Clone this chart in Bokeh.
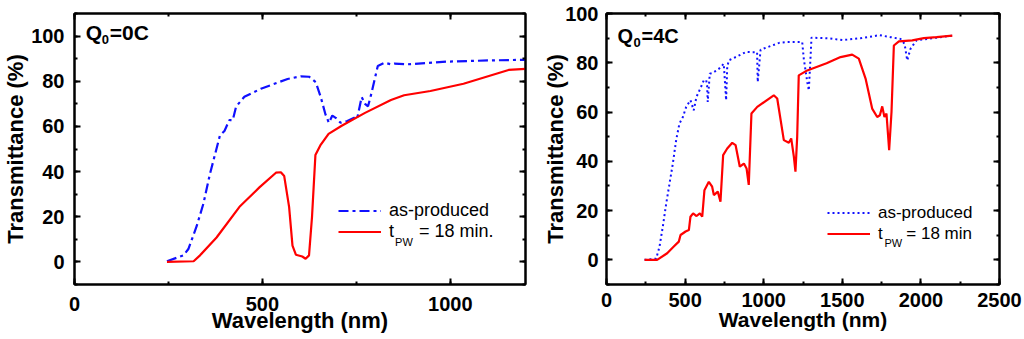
from bokeh.plotting import figure
from bokeh.layouts import row
from bokeh.models import (LinearAxis, SingleIntervalTicker, Range1d, Legend,
                          LegendItem, Label)
from bokeh.embed import file_html
from bokeh.resources import INLINE

FONT = "Liberation Sans"

# ---------------- Panel (a): Q0 = 0C ----------------
a_wl_asprod = [246, 290, 303, 325, 343, 360, 387, 399, 412, 421, 430, 452, 496, 567,
               602, 624, 642, 655, 668, 677, 686, 695, 708, 726, 744, 752, 757, 764,
               773, 781, 790, 807, 825, 842, 851, 886, 992, 1100, 1200]
a_t_asprod = [0.3, 2.9, 5.7, 15.8, 25.8, 38.7, 56, 58, 62.8, 62.8, 68.8, 73.1, 76.7, 81,
              82.2, 82, 79.6, 73.1, 65.2, 61.6, 64.8, 63.8, 61.6, 62.4, 63.8, 63.4, 67.4, 73,
              70, 68.9, 74.6, 86.8, 88.2, 87.5, 87.8, 87.5, 88.7, 89.2, 89.5]
a_wl_pw = [246, 317, 334, 378, 439, 492, 536, 549, 558, 571, 580, 589, 606, 615, 624,
           632, 641, 654, 676, 711, 773, 842, 877, 947, 1035, 1155, 1200]
a_t_pw = [0, 0.3, 2.9, 10.8, 24.4, 33, 39.5, 39.7, 38, 24.4, 7.2, 3.2, 2.4, 1.4, 2.9,
          20, 47.3, 51.6, 56.7, 60.3, 66, 71.7, 73.8, 75.7, 78.9, 85, 85.5]

# ---------------- Panel (b): Q0 = 4C ----------------
b_wl_asprod = [242, 316, 337, 358, 380, 401, 422, 443, 464, 486, 507, 534, 555, 572, 600,
               619, 634, 640, 644, 657, 676, 718, 746, 761, 768, 778, 825, 888, 927, 958,
               962, 980, 1100, 1150, 1245, 1255, 1266, 1277, 1287, 1298, 1304, 1419, 1503,
               1620, 1737, 1807, 1870, 1896, 1913, 1934, 1972, 2100, 2200]
b_t_asprod = [0, 0.5, 5.3, 13.4, 22.9, 31, 39.1, 48.6, 55.3, 58, 62.1, 64.8, 60.7, 66.1, 70,
              72.9, 73, 70.8, 64.1, 75.6, 75.9, 77.7, 79.6, 64.8, 78.3, 81, 82.4, 84.4, 84.3, 84.3,
              72.2, 85.3, 88.1, 88.4, 88.4, 81.6, 76.9, 72.2, 68.8, 82.3, 90.2, 89.9, 89.2,
              90, 91.2, 90.4, 89.7, 87.7, 81, 85.7, 89.1, 90.2, 91]
b_wl_pw = [242, 322, 386, 428, 460, 471, 503, 524, 534, 551, 573, 594, 609, 623, 651, 672,
           683, 708, 725, 742, 768, 800, 821, 848, 874, 891, 905, 922, 959, 1064, 1086,
           1128, 1160, 1175, 1192, 1202, 1213, 1223, 1277, 1400, 1489, 1563, 1605, 1648,
           1690, 1722, 1739, 1754, 1768, 1781, 1798, 1813, 1828, 1860, 1945, 2019, 2100, 2200]
b_t_pw = [0, 0, 2.7, 5.4, 7.4, 10.1, 11.5, 12.1, 17.5, 18.9, 17.8, 18.9, 17.5, 28.3, 31.7, 29.7,
          26.3, 27.7, 23.6, 42.5, 45.2, 47.5, 46.6, 37.8, 39.1, 37.1, 30.4, 59.4, 62.1, 66.8, 65.5,
          48.6, 47.5, 49.3, 41.8, 35.8, 49.9, 74.9, 76.9, 79.8, 82.3, 83.3, 81.7, 73.6,
          61.4, 58, 58.7, 62.3, 58, 59.4, 44.5, 60, 87, 88.7, 89.1, 90, 90.4, 91]

legend_labels_a = ["as-produced", "t\u00a0\u00a0\u00a0\u00a0\u00a0= 18 min."]
legend_labels_b = ["as-produced", "t\u00a0\u00a0\u00a0\u00a0\u00a0= 18 min"]
subscript_text = "PW"

X_LABEL = "Wavelength (nm)"
Y_LABEL = "Transmittance (%)"


def style(p, xint, tick_fs, xlab_fs, ylab_fs, xstand, xlabstand, ystand, ylabstand):
    p.outline_line_color = "black"
    p.outline_line_width = 2
    p.outline_line_alpha = 1
    p.xgrid.visible = False
    p.ygrid.visible = False
    p.xaxis.ticker = SingleIntervalTicker(interval=xint, num_minor_ticks=2)
    p.yaxis.ticker = SingleIntervalTicker(interval=20, num_minor_ticks=2)
    for ax in (p.xaxis[0], p.yaxis[0]):
        ax.axis_line_color = "black"
        ax.axis_line_width = 2
        ax.major_tick_in = 6
        ax.major_tick_out = 0
        ax.minor_tick_in = 3
        ax.minor_tick_out = 0
        ax.major_tick_line_width = 2
        ax.minor_tick_line_width = 2
        ax.major_label_text_font = FONT
        ax.major_label_text_font_style = "bold"
        ax.major_label_text_font_size = tick_fs
        ax.major_label_text_color = "black"
        ax.axis_label_text_font = FONT
        ax.axis_label_text_font_style = "bold"
        ax.axis_label_text_color = "black"
    p.xaxis.axis_label = X_LABEL
    p.yaxis.axis_label = Y_LABEL
    p.xaxis.axis_label_text_font_size = xlab_fs
    p.yaxis.axis_label_text_font_size = ylab_fs
    p.xaxis.major_label_standoff = xstand
    p.xaxis.axis_label_standoff = xlabstand
    p.yaxis.major_label_standoff = ystand
    p.yaxis.axis_label_standoff = ylabstand
    # mirrored ticks on top and right (no labels)
    for side, interval in (("above", xint), ("right", 20)):
        ax = LinearAxis(ticker=SingleIntervalTicker(interval=interval, num_minor_ticks=2),
                        major_label_text_font_size="1px", major_label_text_color=None,
                        major_label_standoff=0,
                        major_tick_in=6, major_tick_out=0, minor_tick_in=3, minor_tick_out=0,
                        major_tick_line_width=2, minor_tick_line_width=2,
                        axis_line_color="black", axis_line_width=2)
        p.add_layout(ax, side)


def add_legend(p, r1, r2, labels, loc, fs):
    leg = Legend(items=[LegendItem(label=labels[0], renderers=[r1]),
                        LegendItem(label=labels[1], renderers=[r2])],
                 location=loc, padding=0, margin=0, spacing=0,
                 border_line_color=None, background_fill_alpha=0,
                 glyph_width=43, glyph_height=21, label_height=21,
                 label_standoff=8, label_text_font=FONT, label_text_font_size=fs,
                 label_text_color="black")
    p.add_layout(leg, "center")


def add_q(p, x, y, digit, fs, sub_fs, q_w):
    common = dict(text_font=FONT, text_font_style="bold", text_color="black",
                  text_baseline="middle", text_align="left")
    p.add_layout(Label(x=x, y=y, text="Q", text_font_size=fs, **common))
    p.add_layout(Label(x=x, y=y, x_offset=q_w, y_offset=-7, text="0",
                       text_font_size=sub_fs, **common))
    p.add_layout(Label(x=x, y=y, x_offset=q_w + 8, text="=" + digit + "C",
                       text_font_size=fs, **common))


# ---------- figure A ----------
pa = figure(width=532, height=338, x_range=Range1d(0, 1200), y_range=Range1d(-10, 110),
            output_backend="svg", toolbar_location=None,
            min_border_left=73, min_border_right=7, min_border_top=7, min_border_bottom=52)
style(pa, 500, "20px", "22px", "22px", 12, -6, 10, 0)
ra1 = pa.line(a_wl_asprod, a_t_asprod, line_color="#1010ff", line_width=2.2,
              line_dash="10 4 3 4")
ra2 = pa.line(a_wl_pw, a_t_pw, line_color="#ff0000", line_width=2.2)
add_legend(pa, ra1, ra2, legend_labels_a, (264, 42), "18px")
pa.add_layout(Label(x=853, y=8.9, text=subscript_text, text_font=FONT, text_font_size="11px",
                    text_color="black", text_baseline="middle"))
add_q(pa, 30, 101.4, "0", "21px", "13px", 16)

# ---------- figure B ----------
pb = figure(width=490, height=338, x_range=Range1d(0, 2500), y_range=Range1d(-10, 100),
            output_backend="svg", toolbar_location=None,
            min_border_left=74, min_border_right=23, min_border_top=13, min_border_bottom=54)
style(pb, 500, "20px", "21px", "22px", 8, -2, 8, -6)
rb1 = pb.line(b_wl_asprod, b_t_asprod, line_color="#1010ff", line_width=2,
              line_dash="2 3")
rb2 = pb.line(b_wl_pw, b_t_pw, line_color="#ff0000", line_width=2.2)
add_legend(pb, rb1, rb2, legend_labels_b, (221, 40), "17px")
pb.add_layout(Label(x=1768, y=7.0, text=subscript_text, text_font=FONT, text_font_size="11px",
                    text_color="black", text_baseline="middle"))
add_q(pb, 70, 91.0, "4", "20px", "13px", 16)

layout = row(pa, pb)
open("out.html", "w").write(file_html(layout, INLINE))
